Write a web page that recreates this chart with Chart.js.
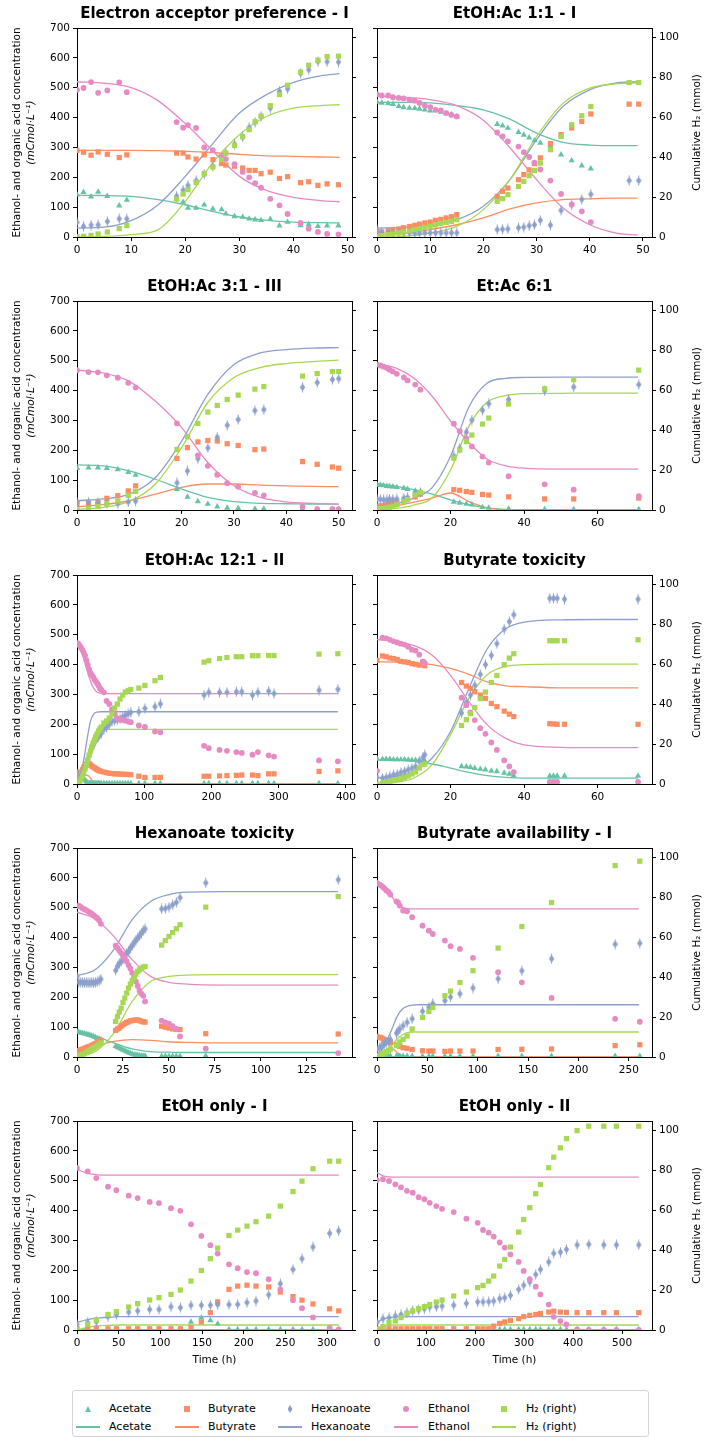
<html>
<head>
<meta charset="utf-8">
<script src="https://cdn.jsdelivr.net/npm/chart.js@4.4.3/dist/chart.umd.min.js"></script>
<style>
  body { margin:0; background:#fff; width:704px; height:1439px; position:relative; font-family:"DejaVu Sans", sans-serif; }
  canvas { position:absolute; }
  .lg { position:absolute; font-size:11px; line-height:12px; color:#000; white-space:nowrap; }
  .mk { position:absolute; }
</style>
</head>
<body>
<div id="legend" style="position:absolute;left:72px;top:1390px;width:577px;height:47px;border:1px solid #d5d5d5;border-radius:3px;box-sizing:border-box;"></div>
<script>
// ---- data: measured (scatter) and fitted (line) per experiment ----
// 1 Electron acceptor preference - I
t1 = [0,1.2,2.6,3.9,5.6,7.8,9.2,18.4,19.6,20.5,22,23.5,25.1,26.7,27.5,29.1,30.6,31.8,32.9,34,35.7,37.4,38.9,41.3,42.8,44.5,46.2,48.3];
ace1 = [142,150,135,151,137,105,124,127,117,97,97,108,94,92,78,69,67,61,58,56,60,38,50,39,42,36,38,38];
but1 = [290,284,274,285,277,266,275,281,281,268,261,275,259,246,241,237,231,223,223,212,217,196,202,182,185,173,178,175];
hex1 = [49,36,40,41,52,61,61,137,157,173,189,211,237,263,281,311,335,367,384,404,432,488,496,549,560,588,587,586];
eth1 = [493,499,519,483,491,518,485,385,366,375,365,300,291,268,261,244,218,200,180,165,128,106,77,47,28,17,10,9];
h2_1 = [0.2,0.3,0.8,1.5,2.5,4.2,5.7,19,21.5,23.7,27.3,31.7,35,38.7,42,45.8,50.2,53.8,57.7,60.5,65.7,71.3,76,82.5,86,88.5,90.3,90.5];
ft1 = [0,5,10,15,20,25,30,35,40,45,48.5];
fAce1 = [140,139,136,125,108,86,67,56,50,48,47];
fBut1 = [290,290,290,289,287,283,277,272,270,268,267];
fHex1 = [30,33,55,108,203,311,415,477,518,540,547];
fEth1 = [520,515,500,456,380,290,203,156,133,122,118];
fH2_1 = [0,0.3,1.2,3.7,17.8,37,51.2,60.3,64.5,65.8,66.2];

// 2 EtOH:Ac 1:1 - I
t2 = [0,0.9,2.1,3,4.1,5,6.1,7.1,8,9,10,11,12,13,14,15,22.6,23.6,24.6,26.6,27.6,28.6,29.6,30.7,32.6,34.6,36.6,38.5,40.2,47.4,49.2];
ace2 = [452,449,447,445,438,434,432,431,429,426,423,424,419,414,410,403,378,373,365,351,342,333,323,315,304,276,256,239,229,null,null];
but2 = [11,17,21,25,27,31,35,39,43,47,50,56,59,64,68,75,136,153,164,192,209,225,246,265,313,343,365,387,412,445,445];
hex2 = [25,15,15,14,14,14,14,13,13,14,14,14,14,14,14,14,25,26,27,31,33,38,41,56,40,89,108,126,143,189,189];
eth2 = [478,474,474,468,466,464,460,457,449,440,435,426,424,415,409,404,350,337,320,303,284,268,249,226,189,144,109,86,50,null,null];
h2_2 = [0.3,0.7,1.2,1.5,2,2.5,3,3.7,4.2,4.8,5.3,6,6.7,7.3,7.8,8.7,17.8,19.2,21.2,25.3,27.8,30.7,33.3,37,43.7,50.3,56.2,60.7,65.3,77.3,77.3];
ft2 = [0,5,10,15,20,25,30,35,40,45,49];
fAce2 = [451,451,449,440,426,395,348,317,308,306,306];
fBut2 = [4,13,25,41,64,94,114,125,128,130,130];
fHex2 = [30,32,41,58,103,192,326,438,493,516,520];
fEth2 = [471,468,460,440,391,299,192,97,41,13,6];
fH2_2 = [0,0.3,2,5.3,13.7,28.7,50.3,67,74.5,76.7,77.2];

// 3 EtOH:Ac 3:1 - III
t3 = [0,2.2,4,5.7,7.8,9.8,11.2,19.1,21.1,23.1,25,26.8,28.7,30.8,34,35.7,43.1,45.9,48.8,50];
ace3 = [140,142,142,140,136,127,117,70,44,29,20,11,7,6,4,4,3,3,3,3];
but3 = [22,22,26,39,48,64,81,173,209,228,233,231,222,216,202,204,162,153,144,140];
hex3 = [26,26,24,23,22,27,30,91,131,172,208,244,284,303,333,336,411,427,437,440];
eth3 = [468,462,461,451,443,426,410,290,246,183,148,118,90,78,57,49,11,3,3,3];
h2_3 = [0.2,0.8,1.7,3,4.5,7.3,9.3,30.3,36.7,43.3,49,52.3,55.3,57.5,60.5,61.8,67,68.3,69.3,69.3];
ft3 = [0,5,10,15,20,25,30,35,40,45,50];
fAce3 = [151,148,131,103,70,42,28,22,21,20,20];
fBut3 = [11,18,31,53,76,87,87,83,81,79,78];
fHex3 = [31,37,53,109,231,387,487,526,537,542,544];
fEth3 = [468,459,431,364,276,159,81,42,27,22,20];
fH2_3 = [0.3,1.3,4.3,13,31.3,53.8,66.3,71.3,73.3,74.3,75];

// 4 Et:Ac 6:1
t4 = [0,0.9,1.8,2.7,3.4,4.3,5.4,7.3,8.3,10.4,11.8,20.9,22.5,24.3,25.8,28.7,30.4,35.8,45.6,53.5,71.2];
ace4 = [84,83,82,80,79,78,76,73,70,64,61,27,24,20,18,9,7,4,2,2,2];
but4 = [11,12,14,18,20,22,26,29,36,44,53,68,66,62,59,52,50,44,37,37,40];
hex4 = [36,36,34,34,36,36,37,40,42,53,59,181,207,261,301,334,356,370,400,412,420];
eth4 = [487,484,480,476,470,464,456,444,434,420,403,289,264,240,213,179,159,113,86,68,46];
h2_4 = [0.3,0.7,0.8,1,1.3,1.8,2.7,4.2,5.2,7.5,8.8,26,30,34.2,37.5,43,46,53,60.7,65.2,70];
ft4 = [0,5,10,15,20,25,30,35,40,50,60,71];
fAce4 = [89,80,68,53,34,18,7,2,1,1,1,1];
fBut4 = [7,14,26,40,57,28,7,1,0,0,0,0];
fHex4 = [20,22,40,75,180,345,425,441,444,445,445,445];
fEth4 = [489,476,442,381,298,226,170,148,140,137,137,137];
fH2_4 = [0.2,0.8,2.5,6,20,42,54,57.3,58.2,58.4,58.5,58.5];

// 5 EtOH:Ac 12:1 - II
t5 = [0,2,4,6,8,10,12,14,16,18,20,22,24,26,28,30,32,34,36,40,44,48,52,56,60,64,68,72,76,80,92,101,116,124,189,196,212,223,237,245,261,269,285,293,360,388];
ace5 = [40,38,35,30,25,18,12,8,5,3,2,2,2,2,2,2,2,2,2,2,2,2,2,2,2,2,2,2,2,2,2,2,2,2,2,2,2,2,2,2,2,2,2,2,2,2];
but5 = [10,20,30,40,48,55,60,65,70,68,64,60,57,54,51,48,46,44,42,40,38,36,35,34,34,33,33,32,32,31,26,22,22,22,26,26,27,28,29,30,30,28,34,34,42,44];
hex5 = [5,12,20,30,40,50,60,70,82,95,108,120,130,140,148,155,160,165,170,183,190,200,210,212,215,218,225,230,235,240,242,253,259,268,298,307,307,307,309,309,298,307,311,303,314,317];
eth5 = [472,470,463,457,449,440,430,415,400,385,372,365,359,350,344,337,330,321,316,307,278,268,250,235,220,216,214,212,209,207,196,191,176,173,128,120,114,111,107,104,98,107,96,92,79,76];
h2_5 = [0,0.5,1.3,2.5,4,5.5,7.5,9.5,12,14.5,16.5,18.5,20.5,22,23.5,25,26.5,27.5,28.5,30.5,31.5,33,35,38,40,42.5,44.5,46,46.8,47.3,48,49.3,51.7,53.3,61,61.7,62.8,63.3,63.7,63.7,64.2,64.2,64.3,64.3,65,65.2];
ft5 = [0,5,10,15,20,25,30,35,40,50,100,200,300,388];
fAce5 = [35,30,15,5,1,0,0,0,0,0,0,0,0,0];
fBut5 = [8,15,25,30,20,5,1,0,0,0,0,0,0,0];
fHex5 = [5,30,80,150,210,235,241,242,242,242,242,242,242,242];
fEth5 = [472,455,420,380,345,320,307,304,303,303,303,303,303,303];
fH2_5 = [0,2,6,12,19,24,26.5,27.2,27.3,27.3,27.3,27.3,27.3,27.3];

// 6 Butyrate toxicity
t6 = [0,1.5,2.5,3.5,4.5,5.5,6.5,7.5,8.5,9.5,10.5,11.5,12.5,13,23,24.3,25.4,26.6,28.1,29.5,31.1,32.6,34.6,36,37.2,47,48,49,51,71];
ace6 = [84,83,83,83,82,82,82,82,81,80,80,79,78,77,59,58,56,53,50,48,44,42,37,34,28,27,27,27,27,27];
but6 = [414,429,426,422,420,417,411,409,407,403,401,398,409,396,340,328,320,309,298,287,270,259,244,234,226,202,201,200,200,200];
hex6 = [22,20,22,26,31,33,39,42,48,53,59,76,89,98,238,273,298,331,367,400,431,470,519,544,567,622,622,622,619,619];
eth6 = [44,490,488,483,478,474,470,467,460,450,447,433,410,405,289,264,240,214,187,168,139,114,79,59,40,7,7,7,null,7];
h2_6 = [0,0.5,0.8,1.2,1.7,2.2,2.8,3.3,4,5,6,8,9.7,10,29.3,32.2,35.2,38.3,42.7,46,50.8,54.3,59.7,63,65.2,71.7,71.7,71.7,71.7,72.2];
ft6 = [0,5,10,15,20,25,30,35,40,50,60,71];
fAce6 = [81,80,76,67,53,39,28,22,20,20,20,20];
fBut6 = [409,408,406,400,387,367,342,329,326,322,322,322];
fHex6 = [20,26,42,87,176,320,453,520,542,550,551,551];
fEth6 = [484,478,464,431,364,276,198,153,131,123,122,122];
fH2_6 = [0,0.8,3,9.7,24.7,43,54.7,58.8,59.7,60,60,60];

// 7 Hexanoate toxicity
t7 = [0,1,2,3,4,5,6,7,8,9,10,11,12,13,21,22,23,24,25,26,27,28,29,30,31,32,33,34,35,36,37,46,48,50,52,54,56,70,142];
ace7 = [84,83,81,80,78,77,75,73,71,69,66,63,61,58,36,33,30,27,24,21,18,15,13,10,8,7,6,5,4,4,4,3,3,3,3,3,3,4,null];
but7 = [15,22,24,26,29,31,34,36,39,42,45,48,52,56,89,94,97,103,108,112,116,118,121,122,123,124,124,122,119,118,117,103,100,97,94,92,92,78,77];
hex7 = [270,250,250,250,248,250,248,248,250,248,250,252,255,261,290,304,313,320,328,337,348,354,365,373,382,391,399,406,415,424,429,496,497,502,510,518,534,583,594];
eth7 = [505,507,503,498,495,492,488,484,480,475,470,465,458,446,373,365,357,348,340,330,320,308,296,282,268,253,238,222,212,205,186,122,116,112,103,94,69,28,13];
h2_7 = [0.3,0.5,1,1.3,1.7,2.2,2.8,3.3,4,4.5,5,5.7,6.3,7,17.8,20.3,22.5,24.5,27.3,29.5,32,34.5,36.5,38.2,39.5,41.5,42.8,43.7,44.5,45,45.3,56,58.3,60.3,62.3,64.2,66.2,75,80.3];
ft7 = [0,10,20,30,40,50,60,80,100,142];
fAce7 = [80,69,47,27,18,16,15,15,15,15];
fBut7 = [19,36,52,58,56,51,49,47,47,47];
fHex7 = [272,293,360,460,521,544,552,554,554,554];
fEth7 = [485,462,404,326,270,250,244,241,241,241];
fH2_7 = [0.2,2.8,12,27.8,37.8,40.3,41,41.2,41.2,41.2];

// 8 Butyrate availability - I
t8 = [0,2.7,4.3,6,7.6,9.3,11.6,13.3,19.3,20.9,22.6,25.9,29.9,34.9,45.2,51.5,55.4,67.4,73,82.3,95.3,120.2,143.8,173.3,236.4,260.9];
ace8 = [3,3,3,3,3,3,3,3,3,3,3,3,3,3,3,3,3,3,3,3,3,3,3,3,3,3];
but8 = [69,66,64,61,58,55,51,49,40,39,36,31,29,25,21,20,20,19,20,20,20,25,26,27,38,41];
hex8 = [27,32,36,40,45,49,54,58,80,86,94,105,116,128,153,167,179,189,201,212,231,262,289,329,378,381];
eth8 = [583,577,574,569,564,558,552,544,521,518,507,490,488,468,440,423,412,390,371,362,332,284,250,198,128,118];
h2_8 = [0.2,0.7,1,1.5,2,2.7,3.3,4,5.7,6.3,7.5,8.8,10.5,14,19.8,22.8,24.8,30.7,33,37.3,43.2,54.5,65.3,77.3,95.8,98];
ft8 = [0,5,10,15,20,25,30,35,40,60,100,150,200,260];
fAce8 = [5,3,1,0,0,0,0,0,0,0,0,0,0,0];
fBut8 = [70,60,45,30,15,5,1,0,0,0,0,0,0,0];
fHex8 = [10,25,58,95,136,160,170,174,175,175,175,175,175,175];
fEth8 = [583,572,555,536,516,502,497,496,496,496,496,496,496,496];
fH2_8 = [0,1,3,6,9,11,12.2,12.5,12.5,12.5,12.5,12.5,12.5,12.5];

// 9 EtOH only - I
t9 = [0,12.8,23.2,37.2,47.2,62,72.8,87.2,98.4,112.8,124,136.8,149.2,160,168.8,182.4,192.8,204,214.8,230,244,259.2,270,283.2,303.2,314];
ace9 = [2,2,2,2,2,2,2,2,2,2,2,27,41,32,21,2,2,2,2,2,2,2,2,2,2,2];
but9 = [4,2,6,4,4,4,4,4,4,4,4,8,27,58,94,136,147,150,147,144,127,112,100,87,71,64];
hex9 = [19,25,28,45,52,60,64,69,69,78,75,83,83,83,85,85,86,92,97,118,155,203,239,278,324,332];
eth9 = [543,531,509,480,468,450,442,429,425,408,399,354,315,284,256,220,207,194,190,170,136,100,73,42,7,2];
h2_9 = [0.2,2.8,5,7.7,9.2,11.5,13.2,15,16.2,17.8,20,24.5,29.8,35.7,41,47.3,50,52,54.2,57,62,69.3,74.5,80.7,84.5,84.5];
ft9 = [0,10,20,30,50,100,200,314];
fAce9 = [0,0,0,0,0,0,0,0];
fBut9 = [0,1,1,1,1,1,1,1];
fHex9 = [25,33,39,41,45,45,45,45];
fEth9 = [538,527,521,519,519,519,519,519];
fH2_9 = [0,1,1.8,2.2,2.5,2.5,2.5,2.5];

// 10 EtOH only - II
t10 = [0,12.2,24.5,37.4,49,61.2,72.8,85,96.6,107.5,121,132.7,156.5,182.3,205.4,216.3,227.9,238.1,250.3,260.5,272.1,289,299.3,311.6,323.8,333.3,350.3,360.5,374.1,386.4,408.2,432,462.6,488.4,534];
ace10 = [2,2,2,2,2,2,2,2,2,2,2,2,2,2,2,2,2,2,2,2,2,2,2,2,2,2,2,2,2,2,2,2,2,2,2];
but10 = [4,4,4,4,4,4,4,4,4,4,4,4,4,4,4,4,4,13,22,27,32,38,45,49,52,55,60,63,60,59,58,58,58,58,58];
hex10 = [25,38,41,47,52,58,64,67,71,77,78,80,83,89,94,94,95,97,105,108,116,136,150,161,186,203,228,257,261,270,285,287,285,285,285];
eth10 = [502,505,499,488,478,466,460,445,438,426,415,406,395,373,359,335,326,313,293,276,253,228,198,170,145,119,85,44,30,19,2,0,0,0,0];
h2_10 = [0.3,1.7,3.7,4.5,6.2,8.3,9.5,10.7,11.7,12.8,14,15,17,19,21.2,22.3,24.5,27,32,35.3,41.5,49,55.3,61.2,68.2,72.8,81.2,86.5,91.2,95.8,99.8,102,102,102,102];
ft10 = [0,10,20,40,80,200,534];
fAce10 = [0,0,0,0,0,0,0];
fBut10 = [0,1,1,1,1,1,1];
fHex10 = [25,35,40,44,45,45,45];
fEth10 = [527,518,514,512,512,512,512];
fH2_10 = [0,1.5,2.2,2.5,2.5,2.5,2.5];

titles = ['Electron acceptor preference - I','EtOH:Ac 1:1 - I','EtOH:Ac 3:1 - III','Et:Ac 6:1','EtOH:Ac 12:1 - II','Butyrate toxicity','Hexanoate toxicity','Butyrate availability - I','EtOH only - I','EtOH only - II'];
xMax = [50.8,51.7,52.55,74.8,409,74.8,149.5,273,330,561];
xStep = [10,10,10,20,100,20,25,50,50,100];
names = ['Acetate','Butyrate','Hexanoate','Ethanol','H\u2082 (right)'];
colors = ['#66c2a5','#fc8d62','#8da0cb','#e78ac3','#a6d854'];

var panels = [
  {t:t1, m:[ace1,but1,hex1,eth1,h2_1], ft:ft1, f:[fAce1,fBut1,fHex1,fEth1,fH2_1]},
  {t:t2, m:[ace2,but2,hex2,eth2,h2_2], ft:ft2, f:[fAce2,fBut2,fHex2,fEth2,fH2_2]},
  {t:t3, m:[ace3,but3,hex3,eth3,h2_3], ft:ft3, f:[fAce3,fBut3,fHex3,fEth3,fH2_3]},
  {t:t4, m:[ace4,but4,hex4,eth4,h2_4], ft:ft4, f:[fAce4,fBut4,fHex4,fEth4,fH2_4]},
  {t:t5, m:[ace5,but5,hex5,eth5,h2_5], ft:ft5, f:[fAce5,fBut5,fHex5,fEth5,fH2_5]},
  {t:t6, m:[ace6,but6,hex6,eth6,h2_6], ft:ft6, f:[fAce6,fBut6,fHex6,fEth6,fH2_6]},
  {t:t7, m:[ace7,but7,hex7,eth7,h2_7], ft:ft7, f:[fAce7,fBut7,fHex7,fEth7,fH2_7]},
  {t:t8, m:[ace8,but8,hex8,eth8,h2_8], ft:ft8, f:[fAce8,fBut8,fHex8,fEth8,fH2_8]},
  {t:t9, m:[ace9,but9,hex9,eth9,h2_9], ft:ft9, f:[fAce9,fBut9,fHex9,fEth9,fH2_9]},
  {t:t10, m:[ace10,but10,hex10,eth10,h2_10], ft:ft10, f:[fAce10,fBut10,fHex10,fEth10,fH2_10]}
];

Chart.defaults.font.family = '"DejaVu Sans", sans-serif';
Chart.defaults.color = '#000';

function xy(xs, ys) {
  var out = [];
  for (var i = 0; i < xs.length; i++) if (ys[i] != null) out.push({x: xs[i], y: ys[i]});
  return out;
}

// thin diamond marker (matplotlib 'd') with a short error bar
function thinDiamond(col) {
  var c = document.createElement('canvas');
  c.width = 7; c.height = 11;
  var g = c.getContext('2d');
  g.strokeStyle = col; g.lineWidth = 1;
  g.beginPath(); g.moveTo(3.5, 0.5); g.lineTo(3.5, 10.5); g.stroke();
  g.fillStyle = col;
  g.beginPath(); g.moveTo(3.5, 1.5); g.lineTo(6.2, 5.5); g.lineTo(3.5, 9.5); g.lineTo(0.8, 5.5); g.closePath(); g.fill();
  return c;
}
var styles = ['triangle', 'rect', thinDiamond(colors[2]), 'circle', 'rect'];
var radii = [3.6, 3.7, 4, 2.9, 3.7];

// ticks only at whole steps from 0 up to the axis end
function stepTicks(step) {
  return function (s) {
    var out = [];
    for (var v = 0; v <= s.max + 1e-9; v += step) out.push({value: Math.round(v * 1000) / 1000});
    s.ticks = out;
  };
}

var labelPlugin = {
  id: 'labels',
  afterDraw: function (chart, args, o) {
    var ctx = chart.ctx, a = chart.chartArea;
    ctx.save();
    ctx.strokeStyle = '#000'; ctx.lineWidth = 1;
    ctx.beginPath(); ctx.moveTo(a.left, a.top + 0.5); ctx.lineTo(a.right, a.top + 0.5); ctx.stroke();
    ctx.fillStyle = '#000'; ctx.textAlign = 'center'; ctx.textBaseline = 'middle';
    var cy = (a.top + a.bottom) / 2;
    if (o.left) {
      ctx.font = '10.5px "DejaVu Sans"';
      ctx.save(); ctx.translate(a.left - 60, cy); ctx.rotate(-Math.PI / 2);
      ctx.fillText('Ethanol- and organic acid concentration', 0, 0); ctx.restore();
      ctx.font = 'italic 10.5px "DejaVu Sans"';
      ctx.save(); ctx.translate(a.left - 46, cy); ctx.rotate(-Math.PI / 2);
      ctx.fillText('(mCmol\u00b7L\u207b\u00b9)', 0, 0); ctx.restore();
    }
    if (o.right) {
      ctx.font = '10.5px "DejaVu Sans"';
      ctx.save(); ctx.translate(a.right + 45, cy); ctx.rotate(-Math.PI / 2);
      ctx.fillText('Cumulative H\u2082 (mmol)', 0, 0); ctx.restore();
    }
    if (o.bottom) {
      ctx.font = '10.5px "DejaVu Sans"';
      ctx.fillText('Time (h)', (a.left + a.right) / 2, a.bottom + 30);
    }
    ctx.restore();
  }
};

var plotTops = [28, 301, 575, 848, 1121];
var plotH = 209;

panels.forEach(function (p, i) {
  var col = i % 2, row = Math.floor(i / 2);
  var last = row === 4;
  var cv = document.createElement('canvas');
  var W = col === 0 ? 364 : 340;
  var H = last ? 282 : 262;
  cv.width = W; cv.height = H;
  cv.style.left = (col === 0 ? 0 : 364) + 'px';
  cv.style.top = (plotTops[row] - 28) + 'px';
  document.body.appendChild(cv);

  var ds = [];
  for (var k = 0; k < 5; k++) {
    ds.push({
      type: 'scatter', label: names[k], data: xy(p.t, p.m[k]),
      yAxisID: k === 4 ? 'y2' : 'y',
      pointStyle: styles[k], pointRadius: radii[k], pointBorderWidth: 0,
      backgroundColor: colors[k], borderColor: colors[k],
      order: 4 - k
    });
  }
  for (var k = 0; k < 5; k++) {
    ds.push({
      type: 'line', label: names[k], data: xy(p.ft, p.f[k]),
      yAxisID: k === 4 ? 'y2' : 'y',
      borderColor: colors[k], borderWidth: 1.3, pointRadius: 0,
      cubicInterpolationMode: 'monotone', fill: false,
      order: k === 4 ? 5 : 10 - k
    });
  }

  var tickFont = {size: 10.5};
  var gridOpt = {display: true, drawOnChartArea: false, drawTicks: true, tickLength: 4, color: '#000', lineWidth: 1};
  new Chart(cv, {
    type: 'scatter',
    data: {datasets: ds},
    options: {
      responsive: false, animation: false, devicePixelRatio: 1,
      layout: {padding: 0},
      plugins: {
        legend: {display: false}, tooltip: {enabled: false},
        title: {display: true, text: titles[i], fullSize: false, color: '#000',
                font: {size: 15, weight: 'bold'}, padding: {top: 5, bottom: 5}},
        labels: {left: col === 0, right: col === 1, bottom: last}
      },
      scales: {
        x: {
          type: 'linear', min: 0, max: xMax[i],
          ticks: {font: tickFont, padding: 3, maxRotation: 0, autoSkip: false},
          grid: gridOpt, border: {display: true, color: '#000', width: 1},
          afterBuildTicks: stepTicks(xStep[i]),
          afterFit: function (s) { s.height = H - 28 - plotH; }
        },
        y: {
          position: 'left', min: 0, max: 700,
          ticks: {font: tickFont, padding: 3, display: col === 0, autoSkip: false},
          grid: gridOpt, border: {display: true, color: '#000', width: 1},
          afterBuildTicks: stepTicks(100),
          afterFit: function (s) { s.width = col === 0 ? 77 : 13; }
        },
        y2: {
          position: 'right', min: 0, max: 104.6,
          ticks: {font: tickFont, padding: 3, display: col === 1, autoSkip: false},
          grid: gridOpt, border: {display: true, color: '#000', width: 1},
          afterBuildTicks: stepTicks(20),
          afterFit: function (s) { s.width = col === 0 ? 12 : 52; }
        }
      }
    },
    plugins: [labelPlugin]
  });
});

// legend (two rows: markers, then fitted lines)
var mkX = [88, 187, 290, 406, 504];
var txX = [109, 208, 311, 428, 526];
var rowY = [1409, 1427];
var shapes = [
  'width:6px;height:6px;clip-path:polygon(50% 0,100% 100%,0 100%);',
  'width:6px;height:6px;',
  'width:5px;height:8px;clip-path:polygon(50% 0,100% 50%,50% 100%,0 50%);',
  'width:6px;height:6px;border-radius:50%;',
  'width:6px;height:6px;'
];
var sizes = [[6, 6], [6, 6], [5, 8], [6, 6], [6, 6]];
for (var k = 0; k < 5; k++) {
  var m = document.createElement('div');
  m.className = 'mk';
  m.style.cssText = shapes[k] + 'background:' + colors[k] + ';left:' + (mkX[k] - sizes[k][0] / 2) + 'px;top:' + (rowY[0] - sizes[k][1] / 2) + 'px;';
  document.body.appendChild(m);
  var l = document.createElement('div');
  l.className = 'mk';
  l.style.cssText = 'width:24px;height:1.5px;background:' + colors[k] + ';left:' + (mkX[k] - 12) + 'px;top:' + (rowY[1] - 0.75) + 'px;';
  document.body.appendChild(l);
  for (var r = 0; r < 2; r++) {
    var s = document.createElement('div');
    s.className = 'lg';
    s.textContent = names[k];
    s.style.left = txX[k] + 'px';
    s.style.top = (rowY[r] - 6) + 'px';
    document.body.appendChild(s);
  }
}
</script>
</body>
</html>
